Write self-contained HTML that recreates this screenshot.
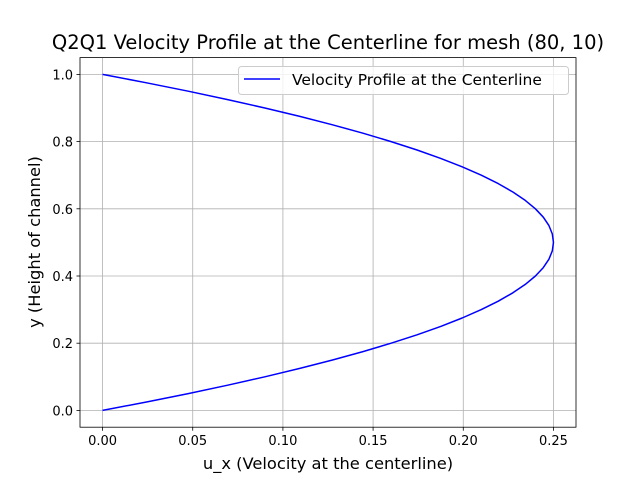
<!DOCTYPE html>
<html><head><meta charset="utf-8"><style>
body{margin:0;background:#fff}
svg{display:block;font-family:"DejaVu Sans","Liberation Sans",sans-serif}
</style></head><body>
<svg id="chart" width="640" height="480" viewBox="0 0 640 480">
<rect width="640" height="480" fill="#fff"/>
<g id="grid"></g>
<g id="ticks"></g>
<polyline id="series" fill="none" stroke="#0000ff" stroke-width="1.5" stroke-linejoin="round"/>
<rect x="80" y="57.6" width="496" height="369.6" fill="none" stroke="#000" stroke-width="0.8"/>
<text x="328" y="49" text-anchor="middle" font-size="19.5">Q2Q1 Velocity Profile at the Centerline for mesh (80, 10)</text>
<text x="328" y="469" text-anchor="middle" font-size="16.3">u_x (Velocity at the centerline)</text>
<text transform="translate(40,242) rotate(-90)" text-anchor="middle" font-size="16.3">y (Height of channel)</text>
<g>
<rect x="238.5" y="66.5" width="330" height="28" rx="3" fill="#fff" fill-opacity="0.8" stroke="#ccc"/>
<line x1="244" y1="79" x2="280" y2="79" stroke="#0000ff" stroke-width="1.5"/>
<text x="292" y="85" font-size="15.5">Velocity Profile at the Centerline</text>
</g>
</svg>
<script>
const yValues=[0,0.025,0.05,0.075,0.1,0.125,0.15,0.175,0.2,0.225,0.25,0.275,0.3,0.325,0.35,0.375,0.4,0.425,0.45,0.475,0.5,0.525,0.55,0.575,0.6,0.625,0.65,0.675,0.7,0.725,0.75,0.775,0.8,0.825,0.85,0.875,0.9,0.925,0.95,0.975,1.0];
const uValues=[0,0.024375,0.0475,0.069375,0.09,0.109375,0.1275,0.144375,0.16,0.174375,0.1875,0.199375,0.21,0.219375,0.2275,0.234375,0.24,0.244375,0.2475,0.249375,0.25,0.249375,0.2475,0.244375,0.24,0.234375,0.2275,0.219375,0.21,0.199375,0.1875,0.174375,0.16,0.144375,0.1275,0.109375,0.09,0.069375,0.0475,0.024375,0];
const xTicks=[0,0.05,0.1,0.15,0.2,0.25];
const xTickLabels=["0.00","0.05","0.10","0.15","0.20","0.25"];
const yTicks=[0,0.2,0.4,0.6,0.8,1.0];
const yTickLabels=["0.0","0.2","0.4","0.6","0.8","1.0"];
const X0=80,X1=576,Y0=427.2,Y1=57.6,xmin=-0.0125,xmax=0.2625,ymin=-0.05,ymax=1.05;
const sx=v=>X0+(v-xmin)/(xmax-xmin)*(X1-X0);
const sy=v=>Y0-(v-ymin)/(ymax-ymin)*(Y0-Y1);
const NS="http://www.w3.org/2000/svg";
const grid=document.getElementById('grid'),ticks=document.getElementById('ticks');
function mk(tag,attrs,parent){const e=document.createElementNS(NS,tag);for(const k in attrs)e.setAttribute(k,attrs[k]);parent.appendChild(e);return e;}
xTicks.forEach((t,i)=>{
 const x=sx(t);
 const g=mk('line',{x1:x,x2:x,y1:Y1,y2:Y0,stroke:'#b0b0b0','stroke-width':0.8},grid);
 
 
 const tk=mk('line',{x1:x,x2:x,y1:Y0,y2:Y0+3.5,stroke:'#000','stroke-width':0.8},ticks);
 
 
 const tx=mk('text',{x:x,y:Y0+18,'text-anchor':'middle','font-size':13},ticks);
 tx.textContent=xTickLabels[i];
 
 
});
yTicks.forEach((t,i)=>{
 const y=sy(t);
 const g=mk('line',{x1:X0,x2:X1,y1:y,y2:y,stroke:'#b0b0b0','stroke-width':0.8},grid);
 
 
 const tk=mk('line',{x1:X0-3.5,x2:X0,y1:y,y2:y,stroke:'#000','stroke-width':0.8},ticks);
 
 
 const tx=mk('text',{x:X0-7,y:y+5,'text-anchor':'end','font-size':13},ticks);
 tx.textContent=yTickLabels[i];
 
 
});
document.getElementById('series').setAttribute('points',uValues.map((u,i)=>sx(u)+','+sy(yValues[i])).join(' '));
</script>
</body></html>
